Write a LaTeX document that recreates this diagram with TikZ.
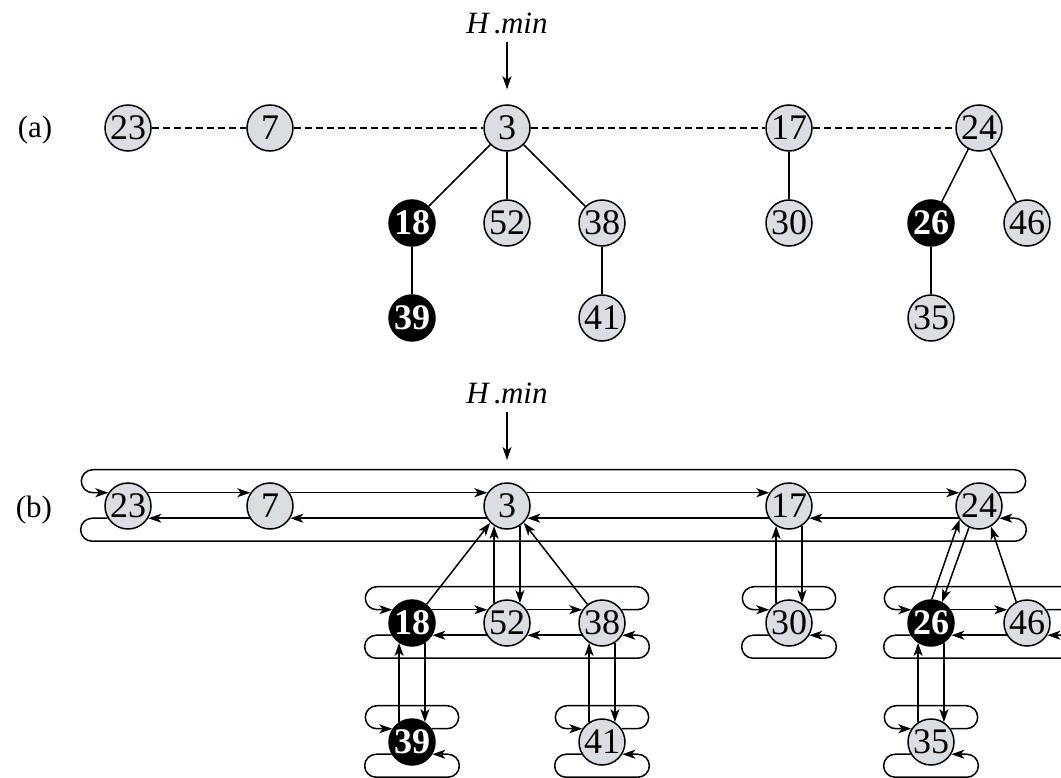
\documentclass[tikz,border=0pt]{standalone}
\usepackage{fontspec}
\setmainfont{Liberation Serif}
\usetikzlibrary{arrows.meta,calc}
\definecolor{nodegray}{RGB}{218,221,226}
\tikzset{
 hn/.style={circle, draw=black, line width=1.5pt, fill=nodegray, minimum size=46pt, inner sep=0pt, font=\fontsize{36}{38}\selectfont},
 bn/.style={hn, fill=black, text=white, font=\fontsize{36}{38}\selectfont\bfseries},
 ptr/.style={line width=1.5pt, -{Stealth[length=13pt,width=9pt,inset=3.5pt]}},
 tedge/.style={line width=1.5pt},
 rootdash/.style={line width=1.3pt, dash pattern=on 7pt off 4pt},
 wrap/.style={ptr, rounded corners=11.5pt},
 lbl/.style={font=\fontsize{31}{34}\selectfont},
}
\newcommand\wraplist[2]{%
 \draw[wrap] (#2.34) -- ++(27,0) |- ($(#1.146)+(-27,-23)$) -- ++(0,23) -- (#1.146);
 \draw[wrap] (#1.211) -- ++(-27,0) |- ($(#2.-31)+(27,23)$) -- ++(0,-23) -- (#2.-31);}
\newcommand\sibs[2]{%
 \draw[ptr] (#1.34) -- (#2.146);
 \draw[ptr] (#2.211) -- (#1.-31);}
\begin{document}
\begin{tikzpicture}[x=1pt,y=-1pt]
\clip (0,0) rectangle (1061,778);
\fill[white] (0,0) rectangle (1061,778);

% ---------- (a) ----------
\node[lbl] (la) at (35,130) {(a)};
\node[lbl] (ha) at (507,23) {\textit{H}\hspace{3pt}.\textit{min}};
\node[hn] (a23) at (128,128) {23};
\node[hn] (a7)  at (270,128) {7};
\node[hn] (a3)  at (507,128) {3};
\node[hn] (a17) at (789,128) {17};
\node[hn] (a24) at (979,128) {24};
\node[bn] (a18) at (412,223) {18};
\node[hn] (a52) at (507,223) {52};
\node[hn] (a38) at (602,223) {38};
\node[hn] (a30) at (789,223) {30};
\node[bn] (a26) at (931,223) {26};
\node[hn] (a46) at (1027,223) {46};
\node[bn] (a39) at (412,318) {39};
\node[hn] (a41) at (602,318) {41};
\node[hn] (a35) at (931,318) {35};
\draw[ptr, shorten <=5pt, shorten >=15pt] (ha) -- (a3);
\foreach \p/\q in {a23/a7,a7/a3,a3/a17,a17/a24} \draw[rootdash] (\p) -- (\q);
\foreach \p/\q in {a3/a18,a3/a52,a3/a38,a18/a39,a38/a41,a17/a30,a24/a26,a24/a46,a26/a35}
  \draw[tedge] (\p) -- (\q);

% ---------- (b) ----------
\node[lbl] (lb) at (34,510) {(b)};
\node[lbl] (hb) at (507,393) {\textit{H}\hspace{3pt}.\textit{min}};
\coordinate (hbtip) at (507,460);
\node[hn] (b23) at (128,506) {23};
\node[hn] (b7)  at (270,506) {7};
\node[hn] (b3)  at (507,506) {3};
\node[hn] (b17) at (789,506) {17};
\node[hn] (b24) at (979,506) {24};
\node[bn] (b18) at (412,623) {18};
\node[hn] (b52) at (507,623) {52};
\node[hn] (b38) at (602,623) {38};
\node[hn] (b30) at (789,623) {30};
\node[bn] (b26) at (931,623) {26};
\node[hn] (b46) at (1027,623) {46};
\node[bn] (b39) at (412,742) {39};
\node[hn] (b41) at (602,742) {41};
\node[hn] (b35) at (931,742) {35};
\draw[ptr, shorten <=5pt] (hb) -- (hbtip);

% root list
\sibs{b23}{b7}\sibs{b7}{b3}\sibs{b3}{b17}\sibs{b17}{b24}
\wraplist{b23}{b24}
% child lists
\sibs{b18}{b52}\sibs{b52}{b38}
\wraplist{b18}{b38}
\sibs{b26}{b46}
\wraplist{b26}{b46}
\wraplist{b30}{b30}
\wraplist{b39}{b39}
\wraplist{b41}{b41}
\wraplist{b35}{b35}
% parent / child pointers
\draw[ptr] (b18.52) -- (b3.225);
\draw[ptr] (b52.123) -- (b3.237);
\draw[ptr] (b3.303) -- (b52.57);
\draw[ptr] (b38.128) -- (b3.315);
\draw[ptr] (b39.123) -- (b18.237);
\draw[ptr] (b18.303) -- (b39.57);
\draw[ptr] (b41.123) -- (b38.237);
\draw[ptr] (b38.303) -- (b41.57);
\draw[ptr] (b30.123) -- (b17.237);
\draw[ptr] (b17.303) -- (b30.57);
\draw[ptr] (b35.123) -- (b26.237);
\draw[ptr] (b26.303) -- (b35.57);
\draw[ptr] (b26.88) -- (b24.215);
\draw[ptr] (b24.245) -- (b26.62);
\draw[ptr] (b46.117) -- (b24.300);
\end{tikzpicture}
\end{document}
